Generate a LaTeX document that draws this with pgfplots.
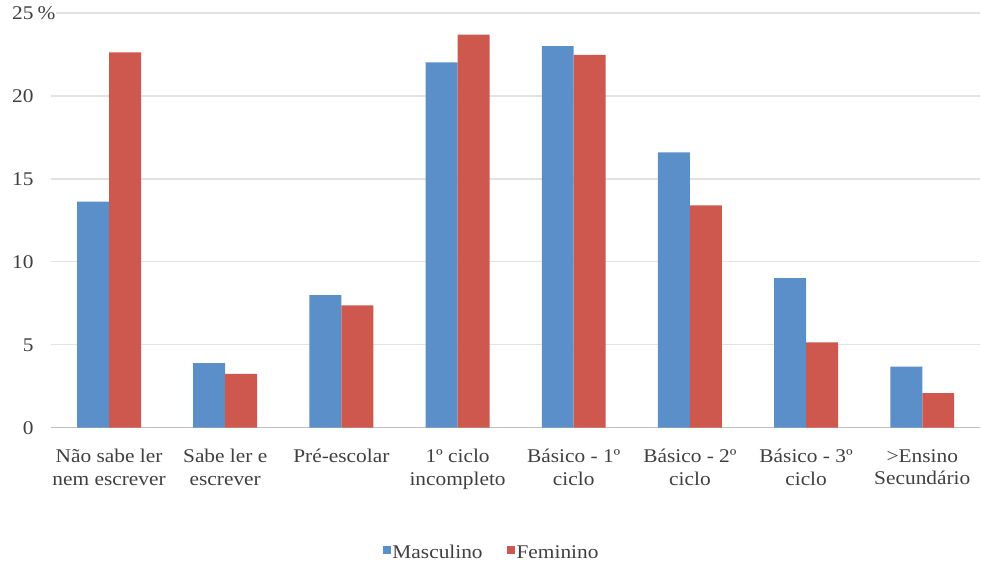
\documentclass[border=0pt]{standalone}
\usepackage{pgfplots}
\pgfplotsset{compat=1.18}
\usepackage{fontspec}
\setmainfont{Liberation Serif}[FakeStretch=1.1]
\definecolor{cblue}{RGB}{91,143,201}
\definecolor{cred}{RGB}{206,88,78}
\definecolor{cgrid}{RGB}{226,226,226}
\newcommand{\lblfont}{\fontsize{19.5}{23}\selectfont}
\begin{document}
\begin{tikzpicture}
\begin{axis}[
  name=ax,
  scale only axis,
  width=930bp, height=415bp,
  xmin=-0.5, xmax=7.5,
  ymin=0, ymax=25,
  ytick={0,5,10,15,20,25},
  yticklabels={0,5,10,15,20,{25\rlap{\setlength{\fboxsep}{1bp}\colorbox{white}{\,\%}}}},
  xtick=data,
  xticklabels={{Não sabe ler\\nem escrever},{Sabe ler e\\escrever},{Pré-escolar},{1º ciclo\\incompleto},{Básico - 1º\\ciclo},{Básico - 2º\\ciclo},{Básico - 3º\\ciclo},{>Ensino\\Secundário}},
  xticklabel style={align=center, font=\lblfont, text=black!75, yshift=-18bp},
  yticklabel style={font=\lblfont, text=black!75, xshift=-14bp},
  major tick length=0pt,
  ymajorgrids,
  grid style={cgrid, line width=1.3bp},
  axis x line*=bottom,
  axis y line*=left,
  y axis line style={draw=none},
  x axis line style={draw=black!25, line width=1.3bp},
  ybar=0pt, bar width=32bp,
  legend style={at={(0.474,-0.301)}, anchor=center, draw=none, font=\lblfont, text=black!75,
    legend columns=2, /tikz/every even column/.append style={column sep=22bp}},
  legend image code/.code={\fill[#1] (0bp,-1bp) rectangle (8bp,7bp);},
]
\addplot[fill=cblue, draw=none] coordinates {(0,13.63) (1,3.9) (2,8.0) (3,22.03) (4,23.0) (5,16.6) (6,9.02) (7,3.69)};
\addplot[fill=cred, draw=none] coordinates {(0,22.63) (1,3.25) (2,7.37) (3,23.7) (4,22.47) (5,13.4) (6,5.14) (7,2.09)};
\legend{Masculino, Feminino}
\end{axis}
\path[use as bounding box] ([shift={(-51bp,-137bp)}]ax.south west) rectangle ([shift={(0bp,13bp)}]ax.north east);
\end{tikzpicture}
\end{document}
